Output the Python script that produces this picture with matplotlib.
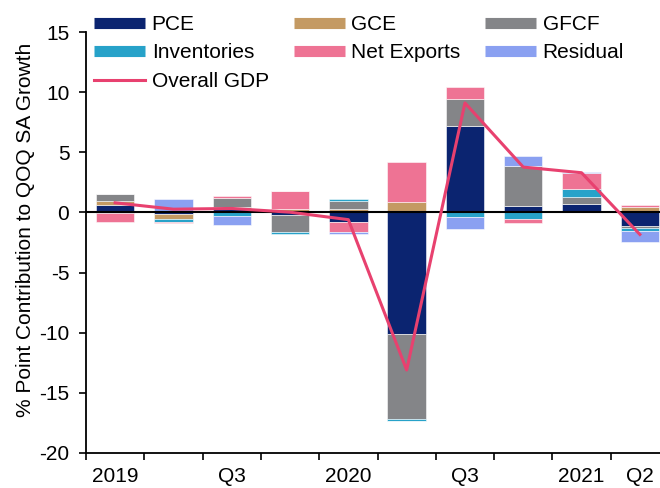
import matplotlib
matplotlib.use("Agg")
import matplotlib.pyplot as plt
from matplotlib.lines import Line2D
import numpy as np

plt.rcParams['font.family'] = ['Liberation Sans', 'DejaVu Sans']
plt.rcParams['axes.unicode_minus'] = False

quarters = ['2019Q1', '2019Q2', '2019Q3', '2019Q4', '2020Q1',
            '2020Q2', '2020Q3', '2020Q4', '2021Q1', '2021Q2']
tick_labels = ['2019', '', 'Q3', '', '2020', '', 'Q3', '', '2021', 'Q2']

pce = [0.62, -0.14, 0.25, -0.25, -0.80, -10.10, 7.17, 0.52, 0.69, -1.14]
gce = [0.36, -0.40, 0.17, 0.30, 0.25, 0.90, 0.00, 0.00, 0.00, 0.44]
gfcf = [0.56, 0.00, 0.80, -1.36, 0.70, -7.10, 2.22, 3.33, 0.56, -0.17]
inventories = [-0.05, -0.22, -0.28, -0.20, 0.15, -0.12, -0.42, -0.58, 0.69, -0.25]
net_exports = [-0.72, -0.11, 0.15, 1.46, -0.83, 3.33, 1.00, -0.33, 1.30, 0.14]
residual = [0.00, 1.11, -0.75, 0.00, -0.17, -0.05, -0.94, 0.83, 0.16, -0.86]
gdp = [0.80, 0.27, 0.33, 0.02, -0.60, -13.10, 9.10, 3.77, 3.30, -1.83]

series = [
    ('PCE', pce, '#0B2470'),
    ('GCE', gce, '#C49A63'),
    ('GFCF', gfcf, '#848588'),
    ('Inventories', inventories, '#27A2C9'),
    ('Net Exports', net_exports, '#EE7394'),
    ('Residual', residual, '#8AA0F1'),
]
gdp_color = '#E8416F'

fig = plt.figure(figsize=(6.6, 4.88), dpi=100)
ax = fig.add_axes([86 / 660, 35 / 488, 583 / 660, 421 / 488])

x = np.arange(len(quarters))
pos_bottom = np.zeros(len(quarters))
neg_bottom = np.zeros(len(quarters))
for name, vals, col in series:
    v = np.array(vals, dtype=float)
    bottoms = np.where(v >= 0, pos_bottom, neg_bottom)
    ax.bar(x, v, width=0.66, bottom=bottoms, color=col,
           edgecolor=(1, 1, 1, 0.55), linewidth=0.7, zorder=2)
    pos_bottom += np.where(v >= 0, v, 0)
    neg_bottom += np.where(v < 0, v, 0)

ax.axhline(0, color='black', linewidth=1.5, zorder=3)
ax.plot(x, gdp, color=gdp_color, linewidth=2.2, zorder=4)

ax.set_xlim(-0.5, 9.5)
ax.set_ylim(-20, 15)
ax.set_yticks(np.arange(-20, 16, 5))
ax.set_xticks(np.arange(-0.5, 10, 1.0))
ax.set_xticklabels([])
ax.set_xticks(x, minor=True)
ax.set_xticklabels(tick_labels, minor=True)
ax.tick_params(axis='x', which='minor', length=0, pad=10, labelsize=15)
ax.tick_params(axis='x', which='major', length=5, width=1.2, direction='out')
ax.tick_params(axis='y', length=5, width=1.2, direction='out', pad=7, labelsize=15)

for s in ['top', 'right']:
    ax.spines[s].set_visible(False)
for s in ['left', 'bottom']:
    ax.spines[s].set_linewidth(1.3)
    ax.spines[s].set_color('black')

ax.set_ylabel('% Point Contribution to QOQ SA Growth', fontsize=15)
ax.yaxis.set_label_coords(-0.088, 0.53)

handles = [Line2D([0], [0], color=c, lw=8, solid_capstyle='butt') for _, _, c in series]
handles.append(Line2D([0], [0], color=gdp_color, lw=2.2))
labels = [n for n, _, _ in series] + ['Overall GDP']
# order so that rows read across: matplotlib fills column-wise
order_handles = [handles[0], handles[3], handles[6], handles[1], handles[4], handles[2], handles[5]]
order_labels = [labels[0], labels[3], labels[6], labels[1], labels[4], labels[2], labels[5]]
leg = ax.legend(order_handles, order_labels, ncol=3, loc='upper left',
                bbox_to_anchor=(0.0, 1.06), frameon=False, fontsize=15,
                handlelength=2.45, handletextpad=0.3, columnspacing=1.2,
                labelspacing=0.45, borderaxespad=0.0)

fig.savefig('out.png', dpi=100)
